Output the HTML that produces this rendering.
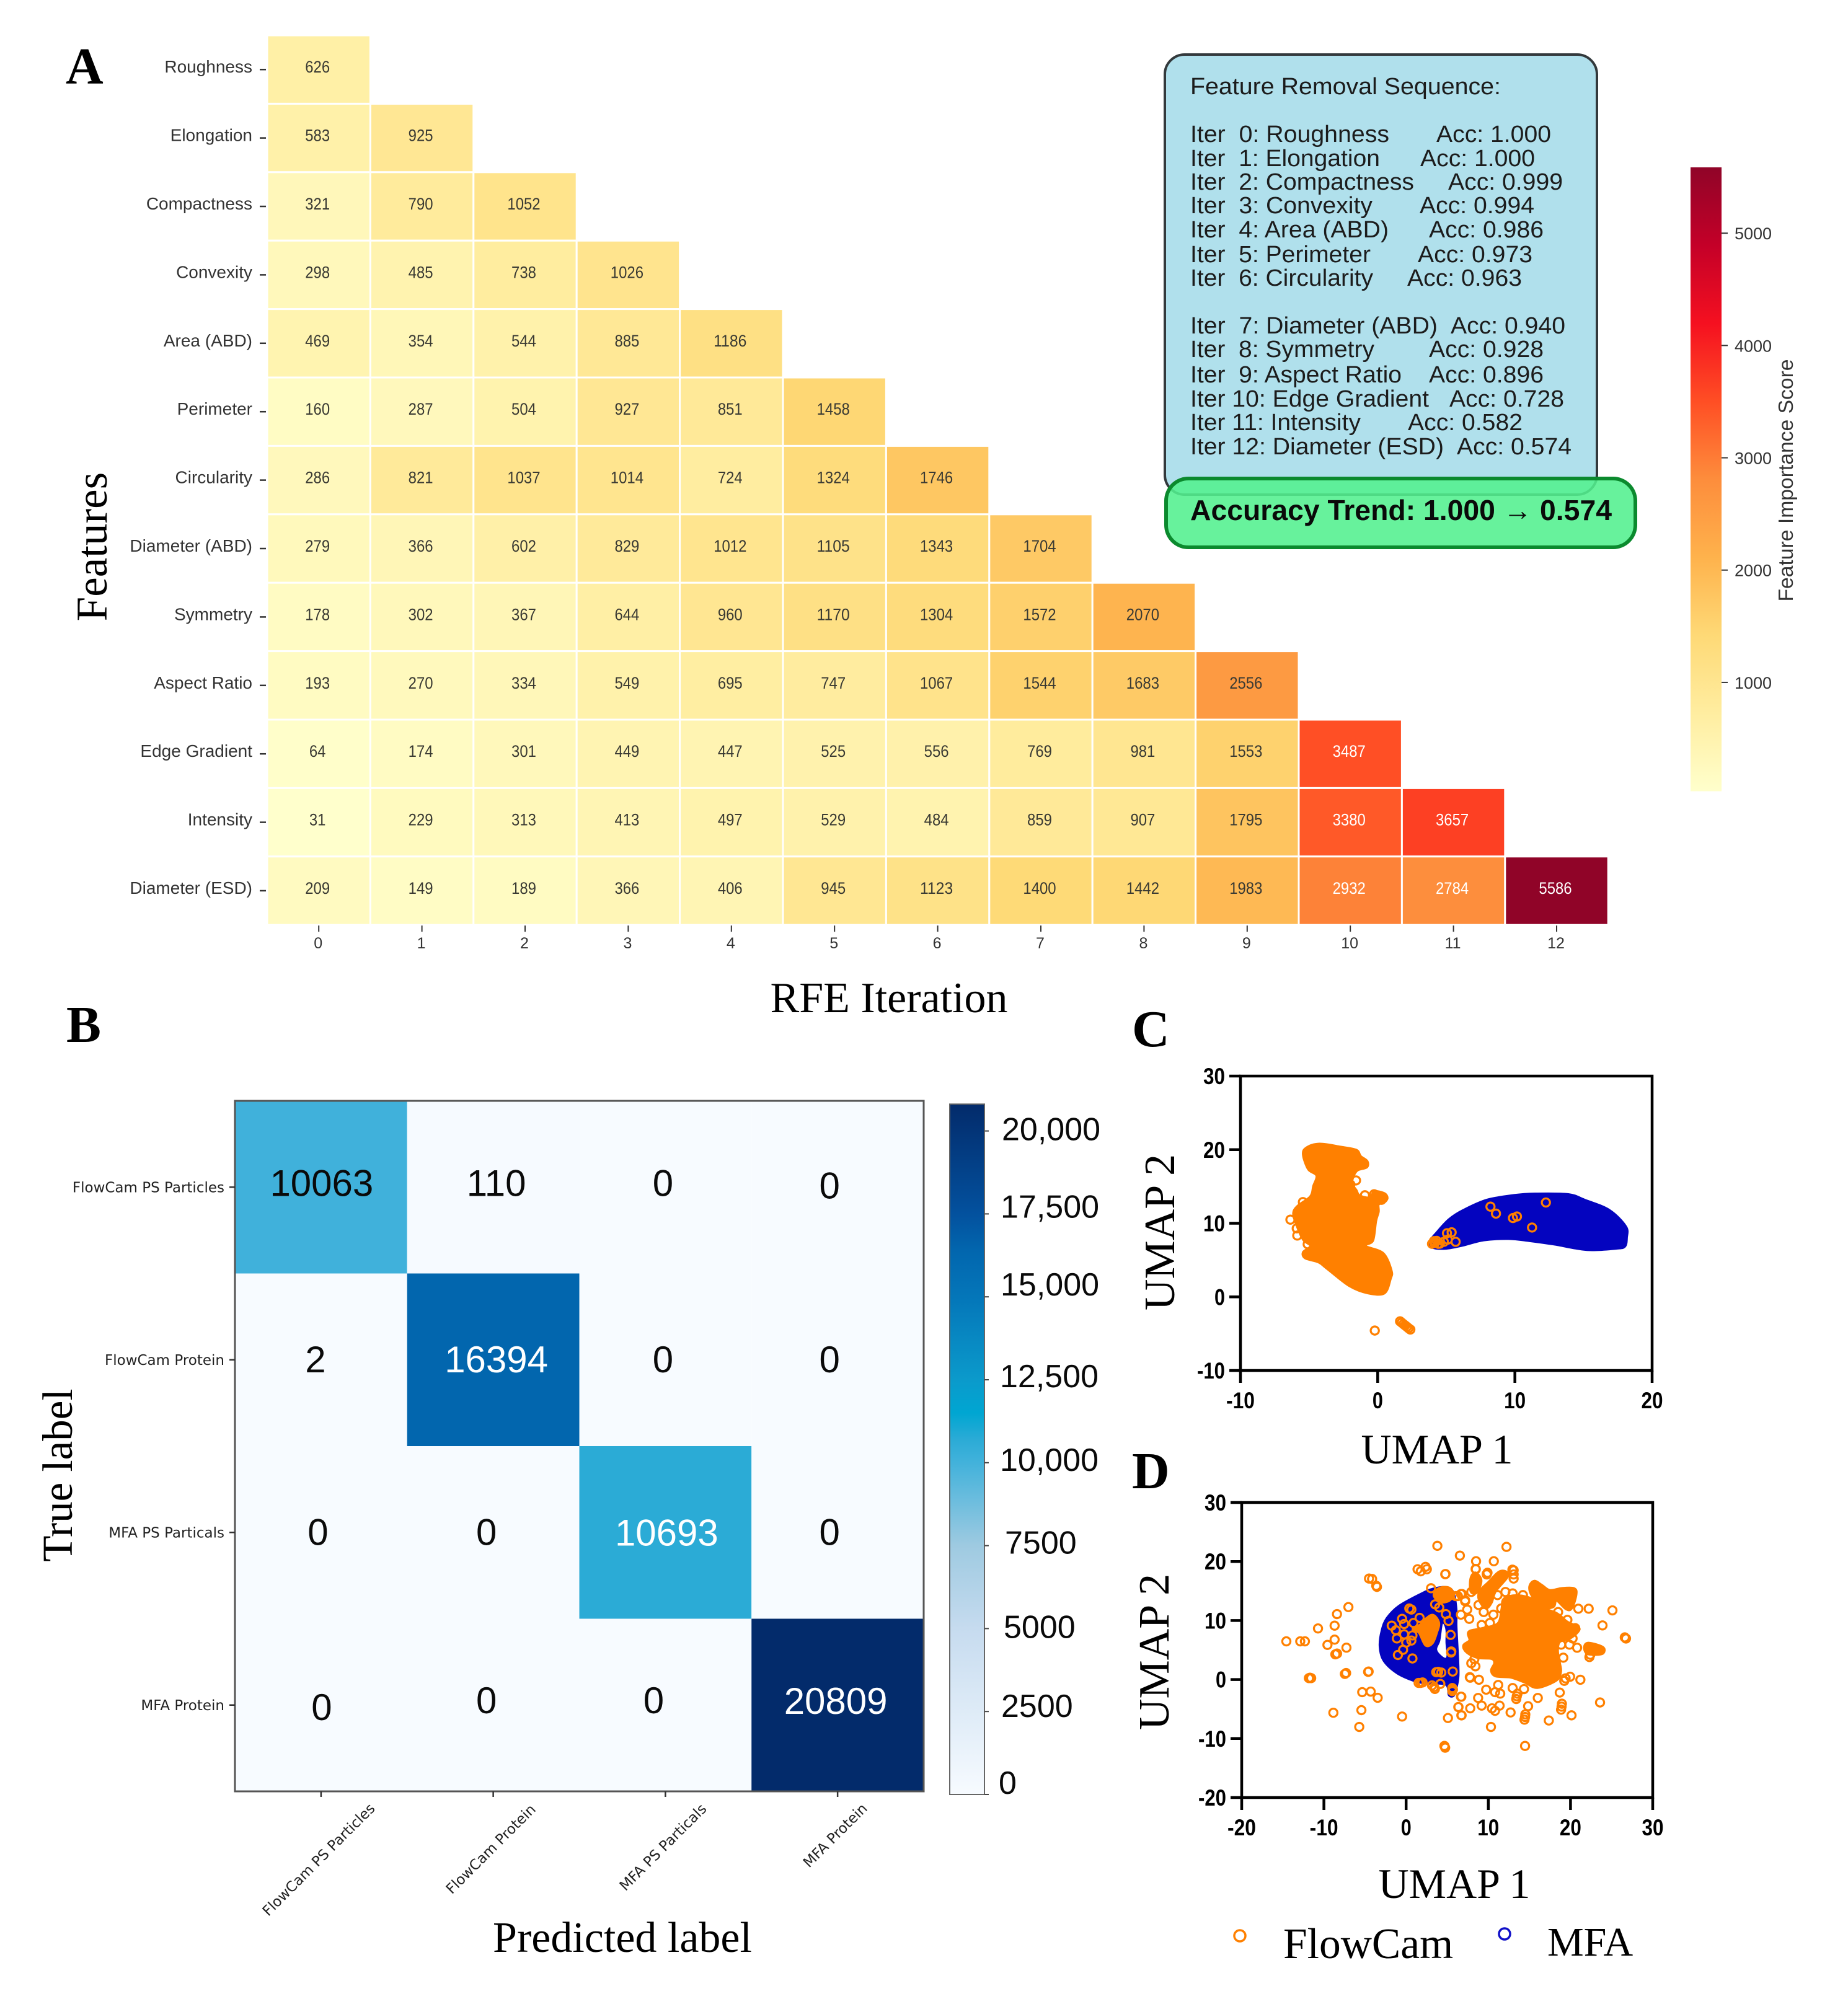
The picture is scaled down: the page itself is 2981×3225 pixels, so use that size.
<!DOCTYPE html>
<html lang="en">
<head>
<meta charset="utf-8">
<title>RFE feature importance, confusion matrix and UMAP projections</title>
<style>
  html, body { margin: 0; padding: 0; background: #ffffff; }
  svg { display: block; }
  text { white-space: pre; }
  .sans { font-family: "Liberation Sans", sans-serif; }
  .serif { font-family: "Liberation Serif", serif; }
</style>
</head>
<body>
<svg id="figure" xmlns="http://www.w3.org/2000/svg" width="2981" height="3225" viewBox="0 0 2981 3225">
  <rect x="0" y="0" width="2981" height="3225" fill="#ffffff"/>
  <defs id="gradients"></defs>

  <text class="serif" x="106" y="135" font-size="84" font-weight="bold">A</text>
  <text class="serif" x="107" y="1681" font-size="84" font-weight="bold">B</text>
  <text class="serif" x="1826" y="1688" font-size="84" font-weight="bold">C</text>
  <text class="serif" x="1826" y="2401" font-size="84" font-weight="bold">D</text>

  <g id="heatmap"></g>
  <text class="serif" transform="translate(172 882) rotate(-90)" text-anchor="middle" font-size="71">Features</text>
  <text class="serif" x="1434" y="1633" text-anchor="middle" font-size="70">RFE Iteration</text>
  <g id="heatColorbar"></g>
  <text class="sans" transform="translate(2892 775) rotate(-90)" text-anchor="middle" font-size="33" fill="#333333" textLength="391" lengthAdjust="spacingAndGlyphs">Feature Importance Score</text>

  <g class="sans" font-size="38" fill="#1c1c1c">
    <rect x="1879" y="88" width="697" height="710" rx="32" ry="32" fill="#b0e0ec" stroke="#33393c" stroke-width="4"/>
    <text x="1920" y="152" textLength="501" lengthAdjust="spacingAndGlyphs">Feature Removal Sequence:</text>
    <g transform="translate(0 -2)">
    <text x="1920" y="231" textLength="321" lengthAdjust="spacingAndGlyphs">Iter  0: Roughness</text>
    <text x="2317" y="231" textLength="185" lengthAdjust="spacingAndGlyphs">Acc: 1.000</text>
    <text x="1920" y="270" textLength="306" lengthAdjust="spacingAndGlyphs">Iter  1: Elongation</text>
    <text x="2291" y="270" textLength="185" lengthAdjust="spacingAndGlyphs">Acc: 1.000</text>
    <text x="1920" y="308" textLength="361" lengthAdjust="spacingAndGlyphs">Iter  2: Compactness</text>
    <text x="2336" y="308" textLength="185" lengthAdjust="spacingAndGlyphs">Acc: 0.999</text>
    <text x="1920" y="346" textLength="294" lengthAdjust="spacingAndGlyphs">Iter  3: Convexity</text>
    <text x="2290" y="346" textLength="185" lengthAdjust="spacingAndGlyphs">Acc: 0.994</text>
    <text x="1920" y="385" textLength="320" lengthAdjust="spacingAndGlyphs">Iter  4: Area (ABD)</text>
    <text x="2305" y="385" textLength="185" lengthAdjust="spacingAndGlyphs">Acc: 0.986</text>
    <text x="1920" y="425" textLength="291" lengthAdjust="spacingAndGlyphs">Iter  5: Perimeter</text>
    <text x="2287" y="425" textLength="185" lengthAdjust="spacingAndGlyphs">Acc: 0.973</text>
    <text x="1920" y="463" textLength="295" lengthAdjust="spacingAndGlyphs">Iter  6: Circularity</text>
    <text x="2270" y="463" textLength="185" lengthAdjust="spacingAndGlyphs">Acc: 0.963</text>
    <text x="1920" y="540" textLength="399" lengthAdjust="spacingAndGlyphs">Iter  7: Diameter (ABD)</text>
    <text x="2340" y="540" textLength="185" lengthAdjust="spacingAndGlyphs">Acc: 0.940</text>
    <text x="1920" y="578" textLength="297" lengthAdjust="spacingAndGlyphs">Iter  8: Symmetry</text>
    <text x="2305" y="578" textLength="185" lengthAdjust="spacingAndGlyphs">Acc: 0.928</text>
    <text x="1920" y="619" textLength="341" lengthAdjust="spacingAndGlyphs">Iter  9: Aspect Ratio</text>
    <text x="2305" y="619" textLength="185" lengthAdjust="spacingAndGlyphs">Acc: 0.896</text>
    <text x="1920" y="658" textLength="385" lengthAdjust="spacingAndGlyphs">Iter 10: Edge Gradient</text>
    <text x="2338" y="658" textLength="185" lengthAdjust="spacingAndGlyphs">Acc: 0.728</text>
    <text x="1920" y="696" textLength="275" lengthAdjust="spacingAndGlyphs">Iter 11: Intensity</text>
    <text x="2271" y="696" textLength="185" lengthAdjust="spacingAndGlyphs">Acc: 0.582</text>
    <text x="1920" y="735" textLength="409" lengthAdjust="spacingAndGlyphs">Iter 12: Diameter (ESD)</text>
    <text x="2350" y="735" textLength="185" lengthAdjust="spacingAndGlyphs">Acc: 0.574</text>
    </g>
  </g>
  <g>
    <rect x="1881" y="772" width="757" height="111" rx="36" ry="36" fill="#52f08e" fill-opacity="0.88" stroke="#0b8a2e" stroke-width="6"/>
    <text class="sans" x="1920" y="839" font-size="46" font-weight="bold" fill="#0a0a0a" textLength="680" lengthAdjust="spacingAndGlyphs">Accuracy Trend: 1.000 → 0.574</text>
  </g>

  <g id="confusion"></g>
  <g id="confusionColorbar"></g>
  <text class="serif" transform="translate(116 2380) rotate(-90)" text-anchor="middle" font-size="69">True label</text>
  <text class="serif" x="1004" y="3149" text-anchor="middle" font-size="70">Predicted label</text>

  <g id="umapC"></g>
  <text class="serif" transform="translate(1894 1988) rotate(-90)" text-anchor="middle" font-size="70">UMAP 2</text>
  <text class="serif" x="2318" y="2361" text-anchor="middle" font-size="68">UMAP 1</text>

  <g id="umapD"></g>
  <text class="serif" transform="translate(1885 2665) rotate(-90)" text-anchor="middle" font-size="70">UMAP 2</text>
  <text class="serif" x="2346" y="3062" text-anchor="middle" font-size="68">UMAP 1</text>

  <g>
    <circle cx="2000" cy="3123" r="9" fill="none" stroke="#ff8000" stroke-width="3.5"/>
    <text class="serif" x="2070" y="3159" font-size="69.5">FlowCam</text>
    <circle cx="2427" cy="3120" r="9" fill="none" stroke="#1010c8" stroke-width="3.5"/>
    <text class="serif" x="2496" y="3155" font-size="66">MFA</text>
  </g>
</svg>

<script>
/* ---------- Panel A data ---------- */
const featureNames = ["Roughness","Elongation","Compactness","Convexity","Area (ABD)","Perimeter","Circularity","Diameter (ABD)","Symmetry","Aspect Ratio","Edge Gradient","Intensity","Diameter (ESD)"];
const iterationLabels = ["0","1","2","3","4","5","6","7","8","9","10","11","12"];
const importanceScores = [
  [626],
  [583,925],
  [321,790,1052],
  [298,485,738,1026],
  [469,354,544,885,1186],
  [160,287,504,927,851,1458],
  [286,821,1037,1014,724,1324,1746],
  [279,366,602,829,1012,1105,1343,1704],
  [178,302,367,644,960,1170,1304,1572,2070],
  [193,270,334,549,695,747,1067,1544,1683,2556],
  [64,174,301,449,447,525,556,769,981,1553,3487],
  [31,229,313,413,497,529,484,859,907,1795,3380,3657],
  [209,149,189,366,406,945,1123,1400,1442,1983,2932,2784,5586]
];
const importanceTicks = [1000,2000,3000,4000,5000];
const importanceMin = 31;
const importanceMax = 5586;
const ylOrRdColors = ["#ffffcc","#ffeda0","#fed976","#feb24c","#fd8d3c","#ff4e24","#f51020","#c40028","#900428"];

/* ---------- Panel B data ---------- */
const confusionLabels = ["FlowCam PS Particles","FlowCam Protein","MFA PS Particals","MFA Protein"];
const confusionValues = [
  [10063,110,0,0],
  [2,16394,0,0],
  [0,0,10693,0],
  [0,0,0,20809]
];
const confusionTicks = [0,2500,5000,7500,10000,12500,15000,17500,20000];
const confusionTickLabels = ["0","2500","5000","7500","10,000","12,500","15,000","17,500","20,000"];
const confusionMapValues = [0,2500,5000,7500,10000,10693,11500,12500,15000,16394,17500,20809];
const confusionMapColors = ["#f7fbff","#deebf7","#c6dbef","#9ecae1","#42b2db","#2babd6","#00a6d2","#0b9acb","#0476b9","#0266ae","#03519e","#032b6b"];

/* ---------- Panel C data (UMAP units) ---------- */
const cAxisXTicks = [-10,0,10,20];
const cAxisYTicks = [-10,0,10,20,30];
const cFlowCamRegionX = [-5.45,-5.23,-4.25,-2.67,-1.54,-1.23,-0.74,-0.78,-1.46,-1.76,-1.84,-1.54,-1.31,-0.56,-0.26,0.50,0.72,0.42,0.08,0.08,-0.11,-0.33,-0.86,0.42,1.02,0.95,0.50,-0.71,-2.06,-3.72,-4.32,-5.30,-5.45,-4.92,-5.45,-5.98,-6.16,-5.83,-4.92,-4.70,-4.47,-5.07];
const cFlowCamRegionY = [19.28,20.26,20.82,20.40,19.98,19.14,18.43,17.59,17.17,16.33,15.35,14.51,13.80,13.52,14.36,14.08,13.38,12.68,12.54,11.56,10.29,7.63,6.93,5.94,3.56,2.43,0.47,0.47,1.45,3.84,4.68,5.24,6.08,6.93,7.77,10.01,11.42,12.40,13.66,15.07,16.47,17.31];
const cMfaRegionX = [3.74,4.26,5.17,6.22,7.95,9.98,11.49,13.90,15.10,16.91,18.12,18.19,18.04,17.36,15.26,12.85,11.04,9.53,7.73,6.22,5.0,3.96];
const cMfaRegionY = [7.49,8.75,10.57,11.84,13.24,13.89,14.08,14.00,13.24,11.84,9.59,8.05,6.79,6.50,6.31,7.07,7.54,7.82,7.63,6.93,6.50,6.65];
const cFlowCamX = [1.63,1.75,1.88,2.0,2.13,2.25,2.38,-0.21,-6.36,-5.90,-5.86,-5.45,-5.10,-1.58,-1.99,-1.84,-0.93,-0.26,8.22,8.62,9.86,10.15,11.25,12.26,5.05,5.39,5.11,5.68,4.18,4.53,4.10,4.82,4.11,4.41,3.96,4.3];
const cFlowCamY = [-3.32,-3.5,-3.7,-3.88,-4.07,-4.26,-4.44,-4.58,10.49,9.31,8.33,12.88,7.15,15.82,15.26,14.22,13.80,13.94,12.26,11.31,10.71,10.92,9.42,12.82,8.65,8.77,7.78,7.48,7.35,7.23,7.57,7.48,7.35,7.21,7.21,7.6];

/* ---------- Panel D data (UMAP units) ---------- */
const dAxisXTicks = [-20,-10,0,10,20,30];
const dAxisYTicks = [-20,-10,0,10,20,30];
const dMfaRegionX = [-3.26,-3.01,-2.38,-0.87,2.15,3.53,4.91,5.79,6.17,6.17,6.35,6.42,6.17,5.79,5.16,4.79,2.65,1.14,-1.12,-2.75];
const dMfaRegionY = [5.56,8.36,10.46,12.56,14.84,15.54,15.71,14.84,11.86,9.06,4.16,0.66,-1.44,-2.84,-2.67,-0.92,-0.74,-0.39,1.01,3.11];
const dMfaGapX = [4.54,4.79,4.79,4.91,4.54,3.78,4.16,4.41];
const dMfaGapY = [9.41,8.36,6.26,3.98,3.81,5.04,6.61,9.06];
/* dense FlowCam clusters: main cloud, diagonal band, upper-right band, small right cluster, upper-left cluster, two clusters over the MFA cloud */
const dFlowCamRegionsX = [
  [7.05,7.80,7.68,9.19,11.2,11.70,11.95,13.46,15.22,16.22,18.24,19.49,20.5,21.0,20.5,19.74,18.61,18.36,18.61,18.74,18.24,15.97,14.47,12.71,10.95,10.44,10.82,10.44,8.68,7.43],
  [12.33,11.45,10.07,9.06,8.93,9.69,10.32,10.82],
  [15.09,15.6,16.48,17.48,18.99,20.37,20.62,20.12,19.49,18.24,17.86,16.48,15.35],
  [21.76,22.26,23.89,23.89,23.01,22.01],
  [7.93,8.43,9.06,8.56,7.93],
  [3.45,4.03,5.16,5.67,5.16,4.16],
  [2.52,3.28,3.91,3.66,3.15,2.4,1.64,0.89,1.64]
];
const dFlowCamRegionsY = [
  [5.74,6.61,8.01,8.54,9.41,11.86,13.61,14.14,13.61,12.21,11.16,9.76,9.06,8.54,7.66,6.96,6.44,4.86,2.76,1.36,-0.04,-1.27,-0.39,0.48,0.66,1.53,2.76,3.63,3.81,4.69],
  [17.64,18.24,16.41,15.01,13.61,12.21,13.09,15.01],
  [15.71,16.59,15.89,15.01,15.36,15.36,14.49,12.21,12.04,13.61,12.39,12.39,14.31],
  [5.56,6.08,5.39,4.51,4.33,4.51],
  [17.11,17.99,16.77,14.84,15.01],
  [14.31,15.37,15.47,14.49,13.44,13.26],
  [10.29,10.81,9.59,8.01,6.26,5.91,8.01,8.54,9.06]
];
const dFlowCamX = [3.80,12.21,6.54,8.51,10.67,1.39,2.36,1.78,2.52,8.46,4.76,9.81,12.93,4.79,-4.14,-4.51,-3.63,-3.55,3.03,0.64,0.39,-0.49,1.64,-1.75,0.89,-0.24,-1.25,-0.24,-1.12,0.77,0.01,0.64,-0.37,-1.0,0.77,3.53,4.03,4.84,5.16,5.42,5.47,5.5,5.67,3.66,4.28,3.9,1.77,1.52,2.0,3.4,4.16,3.15,3.5,5.62,5.62,5.7,-7.02,-8.41,-10.72,-8.70,-8.70,-14.57,-12.88,-12.31,-9.57,-7.26,-8.61,-8.4,-11.83,-11.55,-11.7,-7.45,-7.3,-4.62,-4.56,-5.34,-4.31,-3.46,-8.85,-5.44,-5.7,-0.49,5.09,6.67,6.35,6.75,4.66,4.75,7.8,6.8,7.18,6.3,20.95,22.21,25.1,23.89,26.6,26.75,20.8,19.12,22.3,22.4,21.2,19.95,19.24,19.4,18.69,23.59,20.12,17.36,18.91,18.95,18.85,14.47,14.5,14.4,14.84,16.02,13.46,13.55,13.4,14.34,12.96,11.2,10.82,9.74,11.45,8.76,9.19,7.8,6.72,6.37,6.72,10.82,10.44,11.37,12.71,10.32,14.47,7.75,8.86,8.43,7.93,8.3,18.49,19.62,20.57,20.25,18.86,19.87,6.67,7.68,7.43,7.18,6.67,6.04,7.93,9.44,8.81,10.62,11.57,11.12,12.08,12.96,14.21,9.81,9.9,8.48,13.08,13.08,13.08,10.19,9.19];
const dFlowCamY = [22.66,22.48,21.0,20.05,20.05,18.69,19.1,18.34,18.69,18.74,17.85,17.9,18.62,17.89,17.04,17.11,15.89,15.7,15.47,11.86,12.04,10.29,10.46,9.13,9.59,9.41,8.36,7.66,6.96,7.48,6.26,6.61,5.04,4.16,3.57,12.74,12.21,11.09,9.94,7.56,4.58,4.75,1.36,1.25,1.18,1.3,-0.57,-0.57,-0.5,-1.27,-0.74,-1.0,-1.6,-1.44,-1.97,-1.7,12.28,11.09,8.66,9.13,6.76,6.47,6.47,6.47,5.87,5.40,4.27,4.4,0.24,0.24,0.3,0.95,1.1,1.30,1.36,-2.14,-2.04,-3.09,-5.63,-5.19,-8.03,-6.27,-6.52,-2.91,-4.67,-6.07,-11.25,-11.55,0.31,14.49,13.44,14.14,12.0,12.0,11.72,9.17,7.14,6.95,5.39,3.70,3.81,4.2,-0.04,0.48,-0.22,0.2,-2.21,-3.89,-6.07,-6.94,-4.59,-4.1,-5.1,-6.35,-5.9,-6.8,-4.52,-3.12,-2.84,-2.4,-3.3,-1.62,-1.44,-0.92,-2.14,-1.72,-2.39,-3.12,-4.42,-4.88,-2.91,-4.66,-6.07,-5.3,-4.88,-4.42,-5.58,-8.03,-11.25,0.41,-0.04,2.24,2.76,3.45,11.44,10.11,8.71,6.96,5.91,5.91,10.99,10.28,11.86,13.26,14.49,14.13,14.84,11.44,12.63,10.99,12.04,14.31,14.84,14.59,14.31,17.81,18.1,18.69,17.81,17.11,18.51,9.59,9.24];

/* ---------- helpers ---------- */
const SVG_NS = "http://www.w3.org/2000/svg";
function mk(tag, attrs, parent, content) {
  const el = document.createElementNS(SVG_NS, tag);
  for (const key in attrs) el.setAttribute(key, attrs[key]);
  if (content !== undefined) el.textContent = content;
  parent.appendChild(el);
  return el;
}
function linear(d0, d1, r0, r1) {
  return function (v) { return r0 + (v - d0) * (r1 - r0) / (d1 - d0); };
}
function hexToRgb(h) {
  return [parseInt(h.slice(1,3),16), parseInt(h.slice(3,5),16), parseInt(h.slice(5,7),16)];
}
function mix(a, b, t) {
  const A = hexToRgb(a), B = hexToRgb(b);
  return "rgb(" + A.map(function (c, i) { return Math.round(c + (B[i] - c) * t); }).join(",") + ")";
}
function importanceColor(v) {
  const t = Math.max(0, Math.min(1, (v - importanceMin) / (importanceMax - importanceMin))) * (ylOrRdColors.length - 1);
  const i = Math.min(ylOrRdColors.length - 2, Math.floor(t));
  return mix(ylOrRdColors[i], ylOrRdColors[i + 1], t - i);
}
function confusionColor(v) {
  let i = 0;
  while (i < confusionMapValues.length - 2 && v > confusionMapValues[i + 1]) i++;
  const t = (v - confusionMapValues[i]) / (confusionMapValues[i + 1] - confusionMapValues[i]);
  return mix(confusionMapColors[i], confusionMapColors[i + 1], Math.max(0, Math.min(1, t)));
}
const SANS = '"Liberation Sans", sans-serif';
const DEJAVU = '"DejaVu Sans", sans-serif';

/* ---------- Panel A ---------- */
(function drawHeatmap() {
  const g = document.getElementById("heatmap");
  const left = 431, top = 57, colW = 166.4, rowH = 110.4;
  const xScale = linear(0, 1, left, left + colW);
  const yScale = linear(0, 1, top, top + rowH);
  importanceScores.forEach(function (row, r) {
    row.forEach(function (value, c) {
      const cell = mk("rect", { x: xScale(c), y: yScale(r), width: colW, height: rowH, fill: importanceColor(value), stroke: "#ffffff", "stroke-width": 3 }, g);
      
      
      const txt = String(value);
      const label = mk("text", { x: xScale(c) + colW / 2 - 2, y: yScale(r) + rowH / 2 + 5, "text-anchor": "middle", "font-family": SANS, "font-size": 27, fill: value > 2700 ? "#ffffff" : "#3a3a33", textLength: 13.3 * txt.length, lengthAdjust: "spacingAndGlyphs" }, g, txt);
      
      
    });
  });
  featureNames.forEach(function (name, r) {
    const cy = yScale(r) + rowH / 2;
    const tick = mk("line", { x1: left - 12, x2: left - 2, y1: cy, y2: cy, stroke: "#333333", "stroke-width": 2.5 }, g);
    
    
    const label = mk("text", { x: left - 24, y: cy + 5, "text-anchor": "end", "font-family": SANS, "font-size": 28, fill: "#333333" }, g, name);
    
    
  });
  const bottom = yScale(featureNames.length);
  iterationLabels.forEach(function (name, c) {
    const cx = xScale(c) + colW / 2;
    const tick = mk("line", { x1: cx, x2: cx, y1: bottom + 1, y2: bottom + 11, stroke: "#333333", "stroke-width": 2 }, g);
    
    
    const label = mk("text", { x: cx - 1, y: bottom + 38, "text-anchor": "middle", "font-family": SANS, "font-size": 25, fill: "#333333" }, g, name);
    
    
  });

  /* colorbar */
  const defs = document.getElementById("gradients");
  const grad = mk("linearGradient", { id: "heatGradient", x1: 0, y1: 1, x2: 0, y2: 0 }, defs);
  ylOrRdColors.forEach(function (color, i) {
    mk("stop", { offset: i / (ylOrRdColors.length - 1), "stop-color": color }, grad);
  });
  const cb = document.getElementById("heatColorbar");
  const cbTop = 270, cbBottom = 1276.5, cbLeft = 2727, cbRight = 2777;
  const cbScale = linear(importanceMin, importanceMax, cbBottom, cbTop);
  const bar = mk("rect", { x: cbLeft, y: cbTop, width: cbRight - cbLeft, height: cbBottom - cbTop, fill: "url(#heatGradient)" }, cb);
  
  
  importanceTicks.forEach(function (v) {
    const tick = mk("line", { x1: cbRight, x2: cbRight + 10, y1: cbScale(v), y2: cbScale(v), stroke: "#333333", "stroke-width": 2 }, cb);
    
    
    const label = mk("text", { x: 2798, y: cbScale(v) + 10, "font-family": SANS, "font-size": 27, fill: "#333333" }, cb, String(v));
    
    
  });
})();

/* ---------- Panel B ---------- */
(function drawConfusion() {
  const g = document.getElementById("confusion");
  const left = 379, right = 1490, top = 1776, bottom = 2890;
  const n = confusionLabels.length;
  const colW = (right - left) / n, rowH = (bottom - top) / n;
  const xScale = linear(0, n, left, right);
  const yScale = linear(0, n, top, bottom);
  /* hand-placement of the annotations as seen in the figure (px relative to cell centre) */
  const nudgeX = [[1,5,-4,-13],[-9,5,-4,-13],[-5,-11,2,-13],[1,-11,-19,-3]];
  const nudgeY = [[-7,-7,-7,-3],[-1,-1,-1,-1],[-1,-1,0,-1],[3,-8,-8,-7]];
  confusionValues.forEach(function (row, r) {
    row.forEach(function (value, c) {
      const cell = mk("rect", { x: xScale(c), y: yScale(r), width: colW, height: rowH, fill: confusionColor(value) }, g);
      
      
      const label = mk("text", { x: xScale(c) + colW / 2 + nudgeX[r][c], y: yScale(r) + rowH / 2 + nudgeY[r][c] + 21, "text-anchor": "middle", "font-family": SANS, "font-size": 60, fill: (value > 10500) ? "#ffffff" : "#0a0a0a" }, g, String(value));
      
      
    });
  });
  const frame = mk("rect", { x: left, y: top, width: right - left, height: bottom - top, fill: "none", stroke: "#555555", "stroke-width": 3 }, g);
  
  
  const xCentreY = [3000, 2983, 2980, 2961];
  confusionLabels.forEach(function (name, i) {
    const cy = yScale(i) + rowH / 2;
    const ytick = mk("line", { x1: left - 9, x2: left, y1: cy, y2: cy, stroke: "#333333", "stroke-width": 2.5 }, g);
    
    
    const ylab = mk("text", { x: left - 17, y: cy + 8, "text-anchor": "end", "font-family": DEJAVU, "font-size": 23, fill: "#222222" }, g, name);
    
    
    const cx = xScale(i) + colW / 2;
    const xtick = mk("line", { x1: cx, x2: cx, y1: bottom, y2: bottom + 9, stroke: "#333333", "stroke-width": 2.5 }, g);
    
    
    const xlab = mk("text", { transform: "translate(" + (cx - 4) + " " + xCentreY[i] + ") rotate(-45)", "text-anchor": "middle", "font-family": DEJAVU, "font-size": 23, fill: "#222222", dy: 8 }, g, name);
    
    
  });

  /* colorbar */
  const maxV = confusionMapValues[confusionMapValues.length - 1];
  const defs = document.getElementById("gradients");
  const grad = mk("linearGradient", { id: "confusionGradient", x1: 0, y1: 1, x2: 0, y2: 0 }, defs);
  confusionMapValues.forEach(function (v, i) {
    mk("stop", { offset: v / maxV, "stop-color": confusionMapColors[i] }, grad);
  });
  const cb = document.getElementById("confusionColorbar");
  const cbLeft = 1532, cbRight = 1588, cbBottom = 2895;
  const cbScale = linear(0, 2500, cbBottom, cbBottom - 133.8);
  const bar = mk("rect", { x: cbLeft, y: cbScale(maxV), width: cbRight - cbLeft, height: cbBottom - cbScale(maxV), fill: "url(#confusionGradient)", stroke: "#666666", "stroke-width": 2 }, cb);
  
  
  const labelShiftY = [-20,-10,-4,-6,-6,-7,-21,-13,-4];
  const labelLeftX = [1611,1615,1619,1621,1613,1613,1614,1614,1616];
  confusionTicks.forEach(function (v, i) {
    const tick = mk("line", { x1: cbRight, x2: cbRight + 7, y1: cbScale(v), y2: cbScale(v), stroke: "#444444", "stroke-width": 2 }, cb);
    
    
    const label = mk("text", { x: labelLeftX[i], y: cbScale(v) + labelShiftY[i] + 19, "font-family": SANS, "font-size": 52, fill: "#0a0a0a" }, cb, confusionTickLabels[i]);
    
    
  });
})();

/* ---------- Panels C and D ---------- */
/* closed Catmull-Rom outline through the region's data points */
function regionPath(xs, ys, xScale, yScale) {
  const n = xs.length;
  const P = xs.map(function (x, i) { return [xScale(x), yScale(ys[i])]; });
  let d = "M" + P[0][0].toFixed(1) + " " + P[0][1].toFixed(1);
  for (let i = 0; i < n; i++) {
    const p0 = P[(i - 1 + n) % n], p1 = P[i], p2 = P[(i + 1) % n], p3 = P[(i + 2) % n];
    const c1x = p1[0] + (p2[0] - p0[0]) / 6, c1y = p1[1] + (p2[1] - p0[1]) / 6;
    const c2x = p2[0] - (p3[0] - p1[0]) / 6, c2y = p2[1] - (p3[1] - p1[1]) / 6;
    d += "C" + c1x.toFixed(1) + " " + c1y.toFixed(1) + " " + c2x.toFixed(1) + " " + c2y.toFixed(1) + " " + p2[0].toFixed(1) + " " + p2[1].toFixed(1);
  }
  return d + "Z";
}
function drawAxes(g, xTicks, yTicks, xScale, yScale, box) {
  const frame = mk("rect", { x: box.left, y: box.top, width: box.right - box.left, height: box.bottom - box.top, fill: "none", stroke: "#000000", "stroke-width": 4.5 }, g);
  
  
  xTicks.forEach(function (v) {
    const px = xScale(v);
    const tick = mk("line", { x1: px, x2: px, y1: box.bottom, y2: box.bottom + 20, stroke: "#000000", "stroke-width": 4.5 }, g);
    
    
    const txt = String(v);
    const label = mk("text", { x: px, y: box.bottom + 61, "text-anchor": "middle", "font-family": SANS, "font-weight": "bold", "font-size": 37, fill: "#000000", textLength: v < 0 ? 46 : (v === 0 ? 17 : 35), lengthAdjust: "spacingAndGlyphs" }, g, txt);
    
    
  });
  yTicks.forEach(function (v) {
    const py = yScale(v);
    const tick = mk("line", { x1: box.left - 18, x2: box.left, y1: py, y2: py, stroke: "#000000", "stroke-width": 4.5 }, g);
    
    
    const txt = String(v);
    const label = mk("text", { x: box.left - 25, y: py + 13, "text-anchor": "end", "font-family": SANS, "font-weight": "bold", "font-size": 37, fill: "#000000", textLength: v < 0 ? 45 : (v === 0 ? 17 : 35), lengthAdjust: "spacingAndGlyphs" }, g, txt);
    
    
  });
}
const BLUE = "#0404bf";
const ORANGE = "#ff8000";

(function drawUmapC() {
  const g = document.getElementById("umapC");
  const box = { left: 2001, right: 2665, top: 1736, bottom: 2211 };
  const xScale = linear(-10, 20, box.left, box.right);
  const yScale = linear(-10, 30, box.bottom, box.top);
  const mfa = mk("path", { d: regionPath(cMfaRegionX, cMfaRegionY, xScale, yScale), fill: BLUE, stroke: BLUE, "stroke-width": 2, "stroke-linejoin": "round" }, g);
  
  
  const flow = mk("path", { d: regionPath(cFlowCamRegionX, cFlowCamRegionY, xScale, yScale), fill: ORANGE, stroke: ORANGE, "stroke-width": 3, "stroke-linejoin": "round" }, g);
  
  
  cFlowCamX.forEach(function (x, i) {
    const pt = mk("circle", { cx: xScale(x), cy: yScale(cFlowCamY[i]), r: 6.6, fill: "none", stroke: ORANGE, "stroke-width": 3.2 }, g);
    
    
  });
  drawAxes(g, cAxisXTicks, cAxisYTicks, xScale, yScale, box);
})();

(function drawUmapD() {
  const g = document.getElementById("umapD");
  const box = { left: 2003, right: 2666, top: 2424, bottom: 2900 };
  const xScale = linear(-20, 30, box.left, box.right);
  const yScale = linear(-20, 30, box.bottom, box.top);
  const mfa = mk("path", { d: regionPath(dMfaRegionX, dMfaRegionY, xScale, yScale), fill: BLUE, stroke: BLUE, "stroke-width": 2, "stroke-linejoin": "round" }, g);
  
  
  const gap = mk("path", { d: regionPath(dMfaGapX, dMfaGapY, xScale, yScale), fill: "#ffffff" }, g);
  
  
  dFlowCamRegionsX.forEach(function (xs, k) {
    const flow = mk("path", { d: regionPath(xs, dFlowCamRegionsY[k], xScale, yScale), fill: ORANGE, stroke: ORANGE, "stroke-width": 6, "stroke-linejoin": "round" }, g);
    
    
  });
  dFlowCamX.forEach(function (x, i) {
    const pt = mk("circle", { cx: xScale(x), cy: yScale(dFlowCamY[i]), r: 6.6, fill: "none", stroke: ORANGE, "stroke-width": 3.2 }, g);
    
    
  });
  drawAxes(g, dAxisXTicks, dAxisYTicks, xScale, yScale, box);
})();
</script>
</body>
</html>
